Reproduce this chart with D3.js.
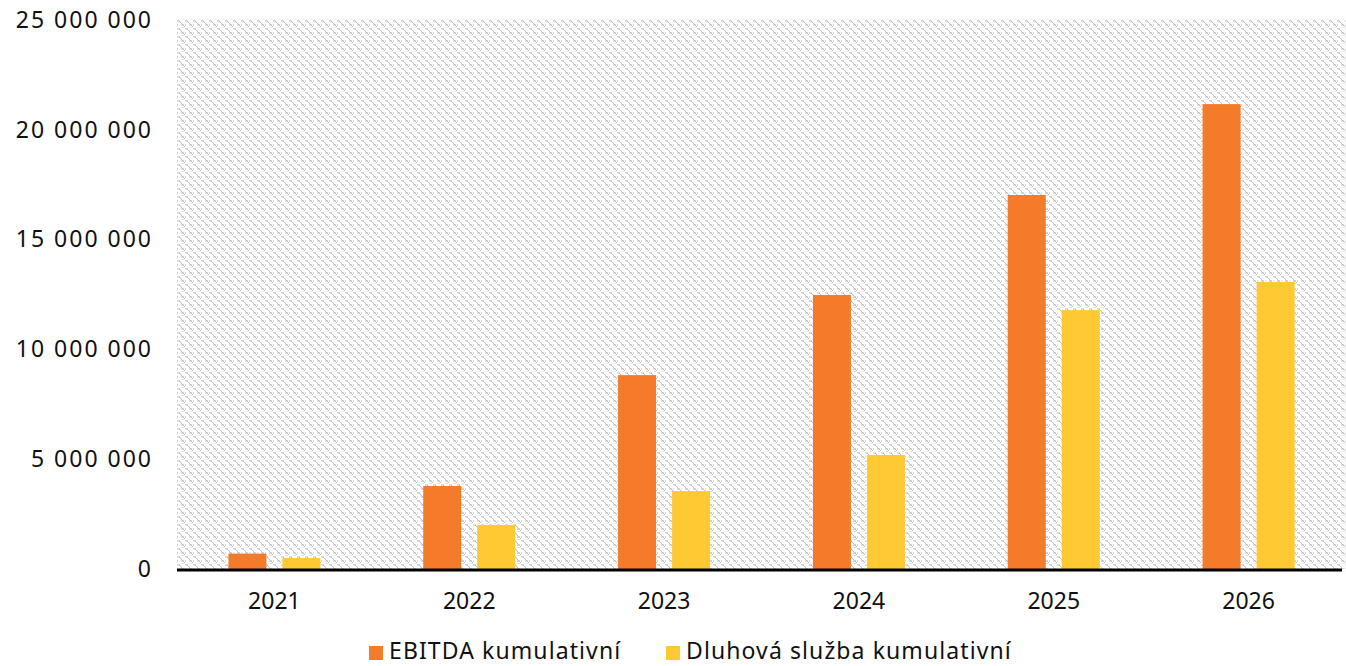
<!DOCTYPE html>
<html>
<head>
<meta charset="utf-8">
<script src="https://cdn.jsdelivr.net/npm/d3@7"></script>
<style>
  body { margin: 0; background: #fff; }
  svg { display: block; font-family: "Noto Sans", sans-serif; }
</style>
</head>
<body>
<svg id="chart" width="1346" height="666"></svg>
<script>
const years = ["2021", "2022", "2023", "2024", "2025", "2026"];
const ebitda = [700000, 3780000, 8830000, 12480000, 17030000, 21170000];
const dluh = [500000, 2000000, 3550000, 5190000, 11790000, 13070000];
const seriesNames = ["EBITDA kumulativní", "Dluhová služba kumulativní"];
const yTicks = [0, 5000000, 10000000, 15000000, 20000000, 25000000];

const COLORS = ["#f47b2a", "#ffc933"];

const margin = { top: 20, right: 0, bottom: 97, left: 177 },
    width = 1346 - margin.left - margin.right,
    height = 666 - margin.top - margin.bottom;

const svg = d3.select("#chart");

// hatched background pattern
const defs = svg.append("defs");
const pat = defs.append("pattern")
    .attr("id", "hatch")
    .attr("patternUnits", "userSpaceOnUse")
    .attr("width", 8)
    .attr("height", 8);
pat.append("path")
    .attr("d", "M0,1 L3,1 M2,1 L8,7 M4,5 L7,5 M-2,5 L1,5 M6,7 L6,9")
    .attr("stroke", "#bdbdbd")
    .attr("stroke-width", 1)
    .attr("fill", "none");

const g = svg.append("g")
    .attr("transform", `translate(${margin.left}, ${margin.top})`);

g.append("rect")
    .attr("width", width)
    .attr("height", height)
    .attr("fill", "url(#hatch)");

const x = d3.scaleBand().domain(years).range([0, width]).padding(0);
const y = d3.scaleLinear().domain([0, 25000000]).range([height, 0]);

// Y axis
const yAxis = g.append("g")
    .call(d3.axisLeft(y).tickValues(yTicks).tickSize(0).tickPadding(24)
        .tickFormat(v => d3.format(",")(v).replace(/,/g, " ")));
yAxis.select(".domain").remove();
yAxis.selectAll("text")
    .attr("font-size", 23)
    .attr("font-family", "Noto Sans, sans-serif")
    .attr("letter-spacing", 2)
    .attr("fill", "#111");

// bars
const barW = 38, gap = 16;
const series = [ebitda, dluh];
series.forEach((vals, si) => {
    g.selectAll(".bar" + si)
        .data(vals)
        .join("rect")
        .attr("class", "bar" + si)
        .attr("x", (_d, i) => x(years[i]) + x.bandwidth() / 2 - (barW + gap / 2) + si * (barW + gap))
        .attr("y", d => y(d))
        .attr("width", barW)
        .attr("height", d => height - y(d))
        .attr("fill", COLORS[si]);
});

// X axis
const xAxis = g.append("g")
    .attr("transform", `translate(0, ${height})`)
    .call(d3.axisBottom(x).tickSize(0).tickPadding(24));
xAxis.select(".domain").remove();
xAxis.selectAll("text")
    .attr("font-size", 23)
    .attr("font-family", "Noto Sans, sans-serif")
    .attr("fill", "#111");

g.append("line")
    .attr("x1", 0).attr("x2", width - 4)
    .attr("y1", y(0) + 1).attr("y2", y(0) + 1)
    .attr("stroke", "#000")
    .attr("stroke-width", 3);

// legend
const legendX = [369, 666];
const legend = svg.append("g");
seriesNames.forEach((name, i) => {
    legend.append("rect")
        .attr("x", legendX[i]).attr("y", 646)
        .attr("width", 14).attr("height", 14)
        .attr("fill", COLORS[i]);
    legend.append("text")
        .attr("x", legendX[i] + 20).attr("y", 659)
        .attr("font-size", 23)
        .attr("letter-spacing", 1.1)
        .attr("fill", "#111")
        .text(name);
});
</script>
</body>
</html>
